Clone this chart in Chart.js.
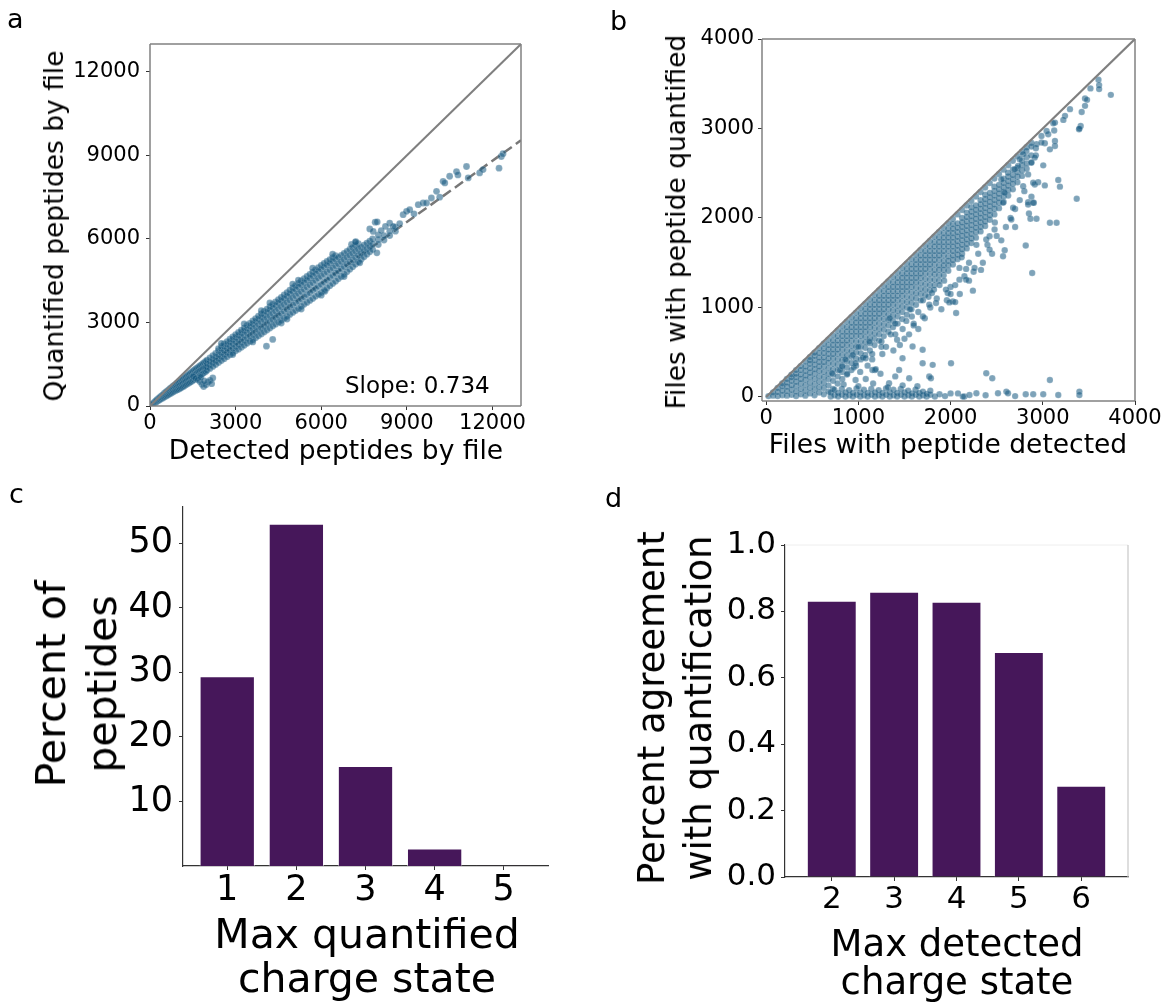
<!DOCTYPE html>
<html>
<head>
<meta charset="utf-8">
<script src="https://cdn.jsdelivr.net/npm/chart.js@4.4.1/dist/chart.umd.min.js"></script>
<style>
  body { margin: 0; background: #fff; width: 1167px; height: 1005px; position: relative; overflow: hidden;
         font-family: 'DejaVu Sans', sans-serif; color: #000; }
  .box { position: absolute; }
  .txt { position: absolute; white-space: nowrap; }
  .rot { position: absolute; white-space: nowrap; text-align: center; transform: translate(-50%, -50%) rotate(-90deg); }
  .ctr { position: absolute; white-space: nowrap; text-align: center; transform: translate(-50%, -50%); }
</style>
</head>
<body>
<div class="box" style="left:0;top:0;width:560px;height:470px"><canvas id="chartA"></canvas></div>
<div class="box" style="left:600px;top:0;width:567px;height:470px"><canvas id="chartB"></canvas></div>
<div class="box" style="left:0;top:480px;width:580px;height:525px"><canvas id="chartC"></canvas></div>
<div class="box" style="left:600px;top:480px;width:567px;height:525px"><canvas id="chartD"></canvas></div>

<!-- panel letters -->
<div class="txt" style="left:7px;top:5px;font-size:27px;line-height:27px">a</div>
<div class="txt" style="left:610px;top:7px;font-size:27px;line-height:27px">b</div>
<div class="txt" style="left:9px;top:480px;font-size:27px;line-height:27px">c</div>
<div class="txt" style="left:605px;top:484px;font-size:27px;line-height:27px">d</div>

<!-- axis titles -->
<div class="rot" style="left:54px;top:226px;font-size:26.5px;line-height:30px">Quantified peptides by file</div>
<div class="ctr" style="left:336px;top:450px;font-size:26.5px;line-height:30px">Detected peptides by file</div>
<div class="txt" style="left:345px;top:374px;font-size:23px;line-height:23px">Slope: 0.734</div>

<div class="rot" style="left:676px;top:222px;font-size:26.5px;line-height:30px">Files with peptide quantified</div>
<div class="ctr" style="left:948px;top:444px;font-size:26.5px;line-height:30px">Files with peptide detected</div>

<div class="rot" style="left:77px;top:684px;font-size:41px;line-height:51px">Percent of<br>peptides</div>
<div class="ctr" style="left:367px;top:956px;font-size:41px;line-height:44px">Max quantified<br>charge state</div>

<div class="rot" style="left:675px;top:708px;font-size:37px;line-height:47px">Percent agreement<br>with quantification</div>
<div class="ctr" style="left:957px;top:963px;font-size:37px;line-height:38px">Max detected<br>charge state</div>

<script>
// ---------- panel a: peptides per file ----------
const aTicks = [0, 3000, 6000, 9000, 12000];
const aSlope = 0.734;
const aLimit = 13000;
// main band, read column by column: [detected, [quantified values]]
const aBand = [
  [50, [35, 45]], [100, [70, 85]], [150, [100, 130]], [200, [130, 160, 180]], [250, [170, 200, 225]],
  [300, [200, 240, 270]], [350, [230, 280, 315]], [400, [260, 310, 360]], [450, [290, 350, 400]],
  [500, [320, 390, 450]], [550, [350, 420, 495]], [600, [380, 460, 530]], [650, [410, 500, 575]],
  [700, [440, 530, 620]], [750, [470, 570, 660]], [800, [500, 600, 700]], [850, [530, 640, 740]],
  [900, [560, 670, 780]], [950, [580, 700, 815]], [1000, [600, 720, 850]], [1050, [630, 760, 890]],
  [1100, [660, 800, 930]], [1150, [690, 830, 970]], [1200, [720, 870, 1010]], [1250, [760, 900, 1050]],
  [1300, [790, 940, 1090]], [1350, [820, 980, 1130]], [1400, [850, 1010, 1170]], [1450, [880, 1040, 1210]],
  [1500, [920, 1080, 1250]], [1550, [950, 1120, 1290]], [1600, [990, 1150, 1330]], [1650, [1020, 1190, 1360]],
  [1700, [1060, 1230, 1400]], [1750, [1100, 1260, 1440]], [1800, [1130, 1300, 1480]], [1850, [1170, 1340, 1520]],
  [1900, [1200, 1370, 1560]], [1950, [1240, 1390, 1600]],
  [2000, [1280, 1400, 1520, 1650]], [2100, [1350, 1470, 1600, 1730]], [2200, [1420, 1550, 1680, 1810]],
  [2300, [1490, 1620, 1760, 1890]], [2400, [1560, 1700, 1840, 1980, 2060]], [2500, [1630, 1770, 1910, 2060, 2140]],
  [2600, [1700, 1850, 1990, 2140, 2230]], [2700, [1770, 1920, 2070, 2220, 2310]], [2800, [1840, 2000, 2150, 2300, 2400]],
  [2900, [1910, 2070, 2230, 2380, 2480]], [3000, [1980, 2140, 2300, 2460, 2560]], [3100, [2040, 2210, 2380, 2540, 2640]],
  [3200, [2110, 2290, 2460, 2630, 2720]], [3300, [2180, 2360, 2540, 2710, 2800]], [3400, [2250, 2430, 2620, 2790, 2890]],
  [3500, [2320, 2510, 2700, 2870, 2970]], [3600, [2380, 2580, 2770, 2950, 3060]], [3700, [2450, 2650, 2850, 3040, 3140]],
  [3800, [2520, 2730, 2930, 3120, 3230]], [3900, [2590, 2800, 3010, 3200, 3310]], [4000, [2660, 2870, 3090, 3280, 3400]],
  [4100, [2730, 2950, 3160, 3370, 3480]], [4200, [2800, 3020, 3240, 3450, 3570]], [4300, [2870, 3100, 3320, 3530, 3650]],
  [4400, [2940, 3170, 3400, 3610, 3740]], [4500, [3010, 3250, 3480, 3700, 3820]], [4600, [3080, 3320, 3560, 3780, 3900]],
  [4700, [3150, 3400, 3640, 3860, 3990]], [4800, [3220, 3470, 3720, 3940, 4070]], [4900, [3290, 3550, 3800, 4030, 4160]],
  [5000, [3360, 3620, 3880, 4110, 4240]], [5100, [3430, 3700, 3960, 4190, 4320]], [5200, [3500, 3770, 4040, 4270, 4400]],
  [5300, [3580, 3850, 4110, 4350, 4490]], [5400, [3650, 3920, 4190, 4430, 4570]], [5500, [3720, 4000, 4270, 4510, 4650]],
  [5600, [3790, 4070, 4350, 4590, 4730]], [5700, [3860, 4150, 4430, 4670, 4810]], [5800, [3940, 4220, 4510, 4750, 4890]],
  [5900, [4010, 4300, 4590, 4830, 4970]], [6000, [4080, 4370, 4660, 4910, 5050]], [6100, [4160, 4450, 4740, 4990, 5120]],
  [6200, [4240, 4530, 4810, 5060, 5190]], [6300, [4320, 4610, 4890, 5130, 5260]], [6400, [4400, 4690, 4960, 5200, 5330]],
  [6500, [4480, 4770, 5040, 5270, 5400]], [6600, [4570, 4850, 5110, 5340]], [6700, [4650, 4930, 5190, 5410]],
  [6800, [4730, 5010, 5260, 5480]], [6900, [4820, 5090, 5340, 5550]], [7000, [4910, 5170, 5410, 5620]],
  [7100, [5000, 5250, 5480, 5690]], [7200, [5090, 5330, 5560, 5760]], [7300, [5180, 5410, 5630, 5830]],
  [7400, [5270, 5490, 5700]], [7500, [5360, 5570, 5780]], [7600, [5450, 5650, 5850]], [7700, [5540, 5730, 5920]],
  [7800, [5620, 5810, 6000]], [8000, [5800, 5970, 6140]], [8200, [5960, 6120]], [8400, [6120, 6280]], [8600, [6280, 6420]]
];
// stray points off the band: [detected, quantified]
const aStray = [
  [1520,1060],[1600,990],[1680,940],[1750,880],[1820,780],[1880,700],[1960,760],[2030,860],[2100,920],
  [2160,800],[2200,1010],[1780,1040],[1900,900],[4300,2390],[4080,2150],[6130,4120],[7350,5140],
  [7060,5800],[7210,5900],[7700,6360],[7820,6270],[7890,6600],[7960,6610],[7950,5500],[8400,6570],[8520,6450],
  [8870,6870],[8990,6990],[9100,7050],[9400,7230],[9570,7290],[9690,7290],[9860,7470],[10040,7710],[10270,8070],
  [10330,8010],[10500,8250],[10740,8420],[10790,8300],[11090,8600],[11150,8190],[11550,8370],[11670,8490],
  [12230,8540],[12310,8960],[12370,9060],[8750,6550],[8100,6300],[8250,6450],[9250,6900],[10150,7500],
  [2500,2250],[2900,1850],[3300,2950],[3600,2300],[4200,3700],[4600,2980],[5000,4380],[5300,3480],
  [5700,4950],[6000,3980],[6400,5450],[6800,4650],[7200,5880],[5200,4520],[3900,3420],[4800,3120]
];

// ---------- panel b: files per peptide ----------
const bTicks = [0, 1000, 2000, 3000, 4000];
const bMin = -45;
const bLimit = 4000;
// dense triangle under the diagonal, column by column: [detected, [quantified values]]
const bTriangle = [
  [25, [10]], [75, [15, 50]], [125, [10, 55, 100]], [175, [20, 70, 120, 150]], [225, [15, 65, 115, 160, 200]],
  [275, [25, 80, 130, 180, 220, 250]], [325, [10, 60, 120, 170, 220, 260, 300]],
  [375, [30, 90, 150, 200, 250, 300, 345]], [425, [15, 70, 130, 190, 240, 290, 340, 395]],
  [475, [40, 100, 160, 220, 270, 320, 370, 410, 445]], [525, [20, 80, 140, 200, 260, 310, 360, 410, 460, 495]],
  [575, [50, 110, 170, 230, 290, 340, 390, 440, 490, 545]], [625, [30, 100, 160, 220, 280, 340, 390, 440, 490, 540, 595]],
  [675, [60, 130, 200, 260, 320, 380, 430, 480, 530, 580, 640]], [725, [90, 180, 250, 310, 370, 430, 480, 530, 580, 630, 690]],
  [775, [150, 230, 300, 360, 420, 480, 530, 580, 630, 680, 740]], [825, [200, 280, 350, 410, 470, 530, 580, 630, 680, 730, 790]],
  [875, [250, 330, 400, 460, 520, 580, 630, 680, 730, 780, 840]], [925, [300, 380, 450, 510, 570, 630, 680, 730, 780, 830, 890]],
  [975, [350, 430, 500, 560, 620, 680, 730, 780, 830, 880, 940]], [1025, [420, 490, 560, 620, 680, 730, 780, 830, 880, 930, 990]],
  [1075, [470, 550, 610, 670, 730, 780, 830, 880, 930, 980, 1040]], [1125, [520, 600, 660, 720, 780, 830, 880, 930, 980, 1030, 1090]],
  [1175, [580, 650, 710, 770, 830, 880, 930, 980, 1030, 1080, 1140]], [1225, [630, 700, 760, 820, 880, 930, 980, 1030, 1080, 1130, 1190]],
  [1275, [680, 750, 810, 870, 930, 980, 1030, 1080, 1130, 1180, 1240]], [1325, [730, 800, 860, 920, 980, 1030, 1080, 1130, 1180, 1230, 1290]],
  [1375, [780, 850, 910, 970, 1030, 1080, 1130, 1180, 1230, 1280, 1340]], [1425, [820, 900, 960, 1020, 1080, 1130, 1180, 1230, 1280, 1330, 1390]],
  [1475, [870, 950, 1010, 1070, 1130, 1180, 1230, 1280, 1330, 1380, 1440]], [1525, [920, 1000, 1060, 1120, 1180, 1230, 1280, 1330, 1380, 1430, 1490]],
  [1575, [980, 1050, 1110, 1170, 1230, 1280, 1330, 1380, 1430, 1480, 1540]], [1625, [1030, 1100, 1160, 1220, 1280, 1330, 1380, 1430, 1480, 1530, 1590]],
  [1675, [1080, 1150, 1210, 1270, 1330, 1380, 1430, 1480, 1530, 1580, 1640]], [1725, [1140, 1200, 1260, 1320, 1380, 1430, 1480, 1530, 1580, 1630, 1690]],
  [1775, [1190, 1250, 1310, 1370, 1430, 1480, 1530, 1580, 1630, 1680, 1740]], [1825, [1250, 1310, 1370, 1420, 1480, 1530, 1580, 1630, 1680, 1730, 1790]],
  [1875, [1300, 1360, 1420, 1470, 1530, 1580, 1630, 1680, 1730, 1780, 1840]], [1925, [1360, 1420, 1470, 1520, 1580, 1630, 1680, 1730, 1780, 1830, 1890]],
  [1975, [1410, 1470, 1520, 1570, 1630, 1680, 1730, 1780, 1830, 1880, 1940]], [2025, [1480, 1530, 1580, 1630, 1680, 1730, 1780, 1830, 1880, 1930, 1990]],
  [2075, [1540, 1590, 1640, 1690, 1740, 1790, 1840, 1890, 1940, 2040]], [2125, [1600, 1650, 1700, 1750, 1800, 1850, 1900, 1950, 2000, 2090]],
  [2175, [1660, 1710, 1760, 1810, 1860, 1910, 1960, 2010, 2060, 2140]], [2225, [1720, 1770, 1820, 1870, 1920, 1970, 2020, 2070, 2120, 2190]],
  [2275, [1780, 1840, 1890, 1940, 1990, 2040, 2090, 2140, 2240]], [2325, [1850, 1900, 1950, 2000, 2050, 2100, 2150, 2200, 2290]],
  [2375, [1910, 1960, 2010, 2060, 2110, 2160, 2210, 2260, 2340]], [2425, [1980, 2030, 2080, 2130, 2180, 2230, 2280, 2390]],
  [2475, [2040, 2100, 2150, 2200, 2250, 2300, 2350, 2440]], [2525, [2110, 2170, 2220, 2270, 2320, 2370, 2490]],
  [2575, [2180, 2240, 2290, 2340, 2390, 2440, 2540]], [2625, [2250, 2310, 2360, 2410, 2460, 2590]],
  [2675, [2320, 2380, 2430, 2480, 2540, 2640]], [2725, [2400, 2460, 2510, 2560, 2690]],
  [2775, [2470, 2530, 2590, 2640, 2740]], [2825, [2550, 2610, 2680, 2790]], [2875, [2620, 2700, 2840]], [2925, [2700, 2780]]
];
// looser fringe under the dense triangle: [detected, quantified]
const bFringe = [
  [800,300],[880,260],[950,330],[1020,280],[1100,350],[1180,300],[860,420],[940,470],[1050,440],[1150,420],
  [1250,620],[1300,560],[1350,700],[1420,640],[1480,760],[1550,700],[1600,820],[1650,760],[1260,480],[1380,520],
  [1450,580],[1520,850],[1580,900],[1650,950],[1720,880],[1780,1000],[1850,1100],[1900,980],[1960,1080],
  [2050,1250],[2100,1150],[1700,1080],[1820,1200],[1930,1300],[2000,1230],[2150,1350],[2200,1500],[2250,1400],
  [2300,1600],[2350,1500],[2400,1700],[2450,1600],[2500,1800],[2550,1750],[2600,1900],[2200,1300],[2330,1420],
  [2650,2000],[2700,2100],[2750,2200],[2800,2300],[2850,2050],[2950,2400],[2700,1900],[2120,1560],[2280,1700],
  [2480,1950],[1880,1250],[1760,1120],[1560,980],[1400,820],[1340,880],[1120,620],[1000,560]
];
// strip of peptides detected but almost never quantified
const bFloor = [
  [700, [5, 50]], [740, [20, 80]], [780, [5, 45]], [820, [25, 90]], [860, [5, 50]], [900, [20, 75]], [940, [5, 45]],
  [980, [25, 95]], [1020, [5, 50]], [1060, [20, 80]], [1100, [5, 45]], [1140, [25, 90]], [1180, [5, 50]],
  [1220, [20, 75]], [1260, [5, 45]], [1300, [25, 95]], [1340, [5, 50]], [1380, [20, 80]], [1420, [5, 45]],
  [1460, [25, 90]], [1500, [5, 50]], [1540, [20, 70]], [1580, [5, 40]], [1620, [25, 80]], [1660, [5, 45]],
  [1700, [20, 60]], [1740, [5, 35]], [1780, [25, 70]], [1830, [5]], [1880, [30]], [1940, [10]], [2000, [40]]
];
// scattered peptides away from the dense regions: [detected, quantified]
const bStray = [
  [3604,3544],[3611,3485],[3611,3440],[3738,3376],[3517,3448],[3458,3336],[3480,3320],[3422,3185],[3458,3253],
  [3295,3216],[3241,3141],[3223,3096],[3132,3066],[3114,3059],[3124,2977],[3411,3029],[3393,2992],[3041,2973],
  [2986,2917],[3059,2936],[3132,2861],[3022,2835],[3077,2767],[3132,2805],[2932,2824],[2877,2798],[2823,2749],
  [2787,2712],[2750,2656],[2913,2675],[2877,2619],[3005,2588],[2732,2581],[2695,2544],[2623,2506],[2841,2487],
  [2913,2375],[3022,2364],[3168,2424],[3186,2350],[3368,2215],[2877,2238],[2841,2177],[2903,2170],[2678,2114],
  [2587,2282],[2550,2431],[3077,1946],[3150,1946],[2866,1991],[2932,1991],[2815,1692],[2885,1386],[2569,1572],
  [2587,1640],[2423,1647],[2242,1188],[2169,1311],[2096,1311],[2060,938],[2024,1068],[1987,1057],[1842,1050],
  [1769,1031],[1798,1162],[1969,1162],[2169,1431],[2260,1442],[2096,1442],[2423,1796],[2387,1759],[2477,1871],
  [2569,2170],[2841,2151],[2896,2170],[2659,1983],[2787,2356],[2896,2394],[2986,2843],[3397,2999],
  [2000,1150],[2050,1060],[1950,1200],[1600,800],[1700,900],[1400,700],[1500,650],[1250,560],[1150,480],
  [716,265],[825,340],[970,377],[1079,433],[1152,302],[970,190],[1333,153],[1442,302],[1479,433],[1697,527],
  [1588,564],[1697,377],[1188,310],[1806,359],[2005,377],[1769,228],[1787,209],[1551,209],[2387,265],[2452,209],
  [3077,190],[840,140],[1000,120],[1160,150],[1320,110],[1480,130],[1640,120],[1080,200],[1400,230],[1240,260],
  [2080,40],[2150,5],[2280,41],[2205,22],[2133,4],[2380,20],[2514,41],[2605,60],[2623,41],[2700,10],[2815,30],
  [2896,30],[3005,30],[3168,22],[3397,60],[3397,22]
];

// ---------- panel c: max quantified charge ----------
const cCharge = [1, 2, 3, 4, 5];
const cPercent = [29.4, 53.0, 15.5, 2.7, 0.05];
const cTicks = [10, 20, 30, 40, 50];

// ---------- panel d: agreement by max detected charge ----------
const dCharge = [2, 3, 4, 5, 6];
const dAgreement = [0.832, 0.859, 0.829, 0.678, 0.275];
const dTicks = [0, 0.2, 0.4, 0.6, 0.8, 1.0];

Chart.defaults.font.family = "'DejaVu Sans', sans-serif";
Chart.defaults.color = '#000';
Chart.defaults.animation = false;

const POINT_FILL = 'rgba(20, 88, 128, 0.55)';
const POINT_EDGE = 'rgba(255, 255, 255, 0.3)';
const BAR_FILL = '#46175a';

// columns of [x, [y, y, ...]] plus loose pairs -> {x, y}
function toPoints(columns, pairs) {
  const out = [];
  columns.forEach(([x, ys]) => ys.forEach(y => out.push({ x, y })));
  pairs.forEach(([x, y]) => out.push({ x, y }));
  return out;
}

// draws the axes box; sides given as {side, color, width}
const framePlugin = {
  id: 'frame',
  afterDatasetsDraw(chart, args, opts) {
    if (!opts.sides) return;
    const { ctx, chartArea: { left, right, top, bottom } } = chart;
    ctx.save();
    opts.sides.forEach(s => {
      ctx.strokeStyle = s.color;
      ctx.lineWidth = s.width;
      ctx.beginPath();
      if (s.side === 'top') { ctx.moveTo(left, top); ctx.lineTo(right, top); }
      if (s.side === 'bottom') { ctx.moveTo(left, bottom); ctx.lineTo(right, bottom); }
      if (s.side === 'left') { ctx.moveTo(left, top); ctx.lineTo(left, bottom); }
      if (s.side === 'right') { ctx.moveTo(right, top); ctx.lineTo(right, bottom); }
      ctx.stroke();
    });
    ctx.restore();
  }
};

function fixedTicks(list) {
  return scale => { scale.ticks = list.map(v => ({ value: v })); };
}

function axis(opts) {
  return {
    type: 'linear',
    min: opts.min,
    max: opts.max,
    offset: false,
    afterBuildTicks: fixedTicks(opts.ticks),
    afterFit: opts.fit,
    border: opts.border || { display: false },
    grid: { display: true, offset: false, drawOnChartArea: false, drawTicks: true, tickLength: 4, color: '#333', lineWidth: 1 },
    ticks: {
      autoSkip: false, maxRotation: 0, color: '#000', padding: opts.pad,
      font: { size: opts.size, lineHeight: 1 },
      callback: opts.fmt || (v => String(v))
    }
  };
}

const boxSides = color => ['top', 'bottom', 'left', 'right'].map(side => ({ side, color, width: 1.5 }));

// ---- a ----
new Chart(document.getElementById('chartA'), {
  type: 'scatter',
  data: {
    datasets: [
      { type: 'line', data: [{ x: 0, y: 0 }, { x: aLimit, y: aLimit }], borderColor: '#7f7f7f', borderWidth: 2,
        pointRadius: 0, order: 0 },
      { data: toPoints(aBand, aStray), backgroundColor: POINT_FILL, borderColor: POINT_EDGE,
        borderWidth: 0.5, pointRadius: 3.4, order: 1 },
      { type: 'line', data: [{ x: 0, y: 0 }, { x: aLimit, y: aLimit * aSlope }], borderColor: '#777', borderWidth: 2.5,
        borderDash: [10, 5], pointRadius: 0, order: 2 }
    ]
  },
  options: {
    responsive: true, maintainAspectRatio: false, events: [],
    layout: { padding: { top: 44, right: 39, left: 0, bottom: 0 } },
    plugins: { legend: { display: false }, tooltip: { enabled: false }, frame: { sides: boxSides('#808080') } },
    scales: {
      x: axis({ min: 0, max: aLimit, ticks: aTicks, size: 21, pad: 3, fit: s => { s.height = 64; } }),
      y: axis({ min: 0, max: aLimit, ticks: aTicks, size: 21, pad: 6, fit: s => { s.width = 150; } })
    }
  },
  plugins: [framePlugin]
});

// ---- b ----
new Chart(document.getElementById('chartB'), {
  type: 'scatter',
  data: {
    datasets: [
      { type: 'line', data: [{ x: 0, y: 0 }, { x: bLimit, y: bLimit }], borderColor: '#7f7f7f', borderWidth: 2.2,
        pointRadius: 0, order: 0 },
      { data: toPoints(bTriangle.concat(bFloor), bFringe.concat(bStray)), backgroundColor: POINT_FILL,
        borderColor: POINT_EDGE, borderWidth: 0.5, pointRadius: 3.2, order: 1 }
    ]
  },
  options: {
    responsive: true, maintainAspectRatio: false, events: [],
    layout: { padding: { top: 39, right: 32, left: 0, bottom: 0 } },
    plugins: { legend: { display: false }, tooltip: { enabled: false }, frame: { sides: boxSides('#808080') } },
    scales: {
      x: axis({ min: bMin, max: bLimit, ticks: bTicks, size: 21, pad: 3, fit: s => { s.height = 69; } }),
      y: axis({ min: bMin, max: bLimit, ticks: bTicks, size: 21, pad: 4, fit: s => { s.width = 162; } })
    }
  },
  plugins: [framePlugin]
});

// ---- c ----
new Chart(document.getElementById('chartC'), {
  type: 'bar',
  data: {
    datasets: [{
      data: cCharge.map((c, i) => ({ x: c, y: cPercent[i] })),
      backgroundColor: BAR_FILL, borderColor: 'rgba(255,255,255,0.5)', borderWidth: 1,
      barPercentage: 0.8, categoryPercentage: 1
    }]
  },
  options: {
    responsive: true, maintainAspectRatio: false, events: [],
    layout: { padding: { top: 27, right: 32, left: 0, bottom: 0 } },
    plugins: { legend: { display: false }, tooltip: { enabled: false } },
    scales: {
      x: axis({ min: 0.36, max: 5.64, ticks: cCharge, size: 35, pad: 3, fit: s => { s.height = 139; },
                border: { display: true, color: '#333', width: 1.2 } }),
      y: axis({ min: 0, max: 55.6, ticks: cTicks, size: 35, pad: 6, fit: s => { s.width = 183; },
                border: { display: true, color: '#333', width: 1.2 } })
    }
  }
});

// ---- d ----
new Chart(document.getElementById('chartD'), {
  type: 'bar',
  data: {
    datasets: [{
      data: dCharge.map((c, i) => ({ x: c, y: dAgreement[i] })),
      backgroundColor: BAR_FILL, borderColor: 'rgba(255,255,255,0.5)', borderWidth: 1,
      barPercentage: 0.8, categoryPercentage: 1
    }]
  },
  options: {
    responsive: true, maintainAspectRatio: false, events: [],
    layout: { padding: { top: 65, right: 39, left: 0, bottom: 0 } },
    plugins: {
      legend: { display: false }, tooltip: { enabled: false },
      frame: { sides: [{ side: 'top', color: '#eeeeee', width: 1 }, { side: 'right', color: '#c8c8c8', width: 1.2 }] }
    },
    scales: {
      x: axis({ min: 1.25, max: 6.75, ticks: dCharge, size: 31, pad: 3, fit: s => { s.height = 128; },
                border: { display: true, color: '#333', width: 1.2 } }),
      y: axis({ min: 0, max: 1, ticks: dTicks, size: 31, pad: 5, fit: s => { s.width = 185; },
                border: { display: true, color: '#333', width: 1.2 }, fmt: v => v.toFixed(1) })
    }
  },
  plugins: [framePlugin]
});
</script>
</body>
</html>
